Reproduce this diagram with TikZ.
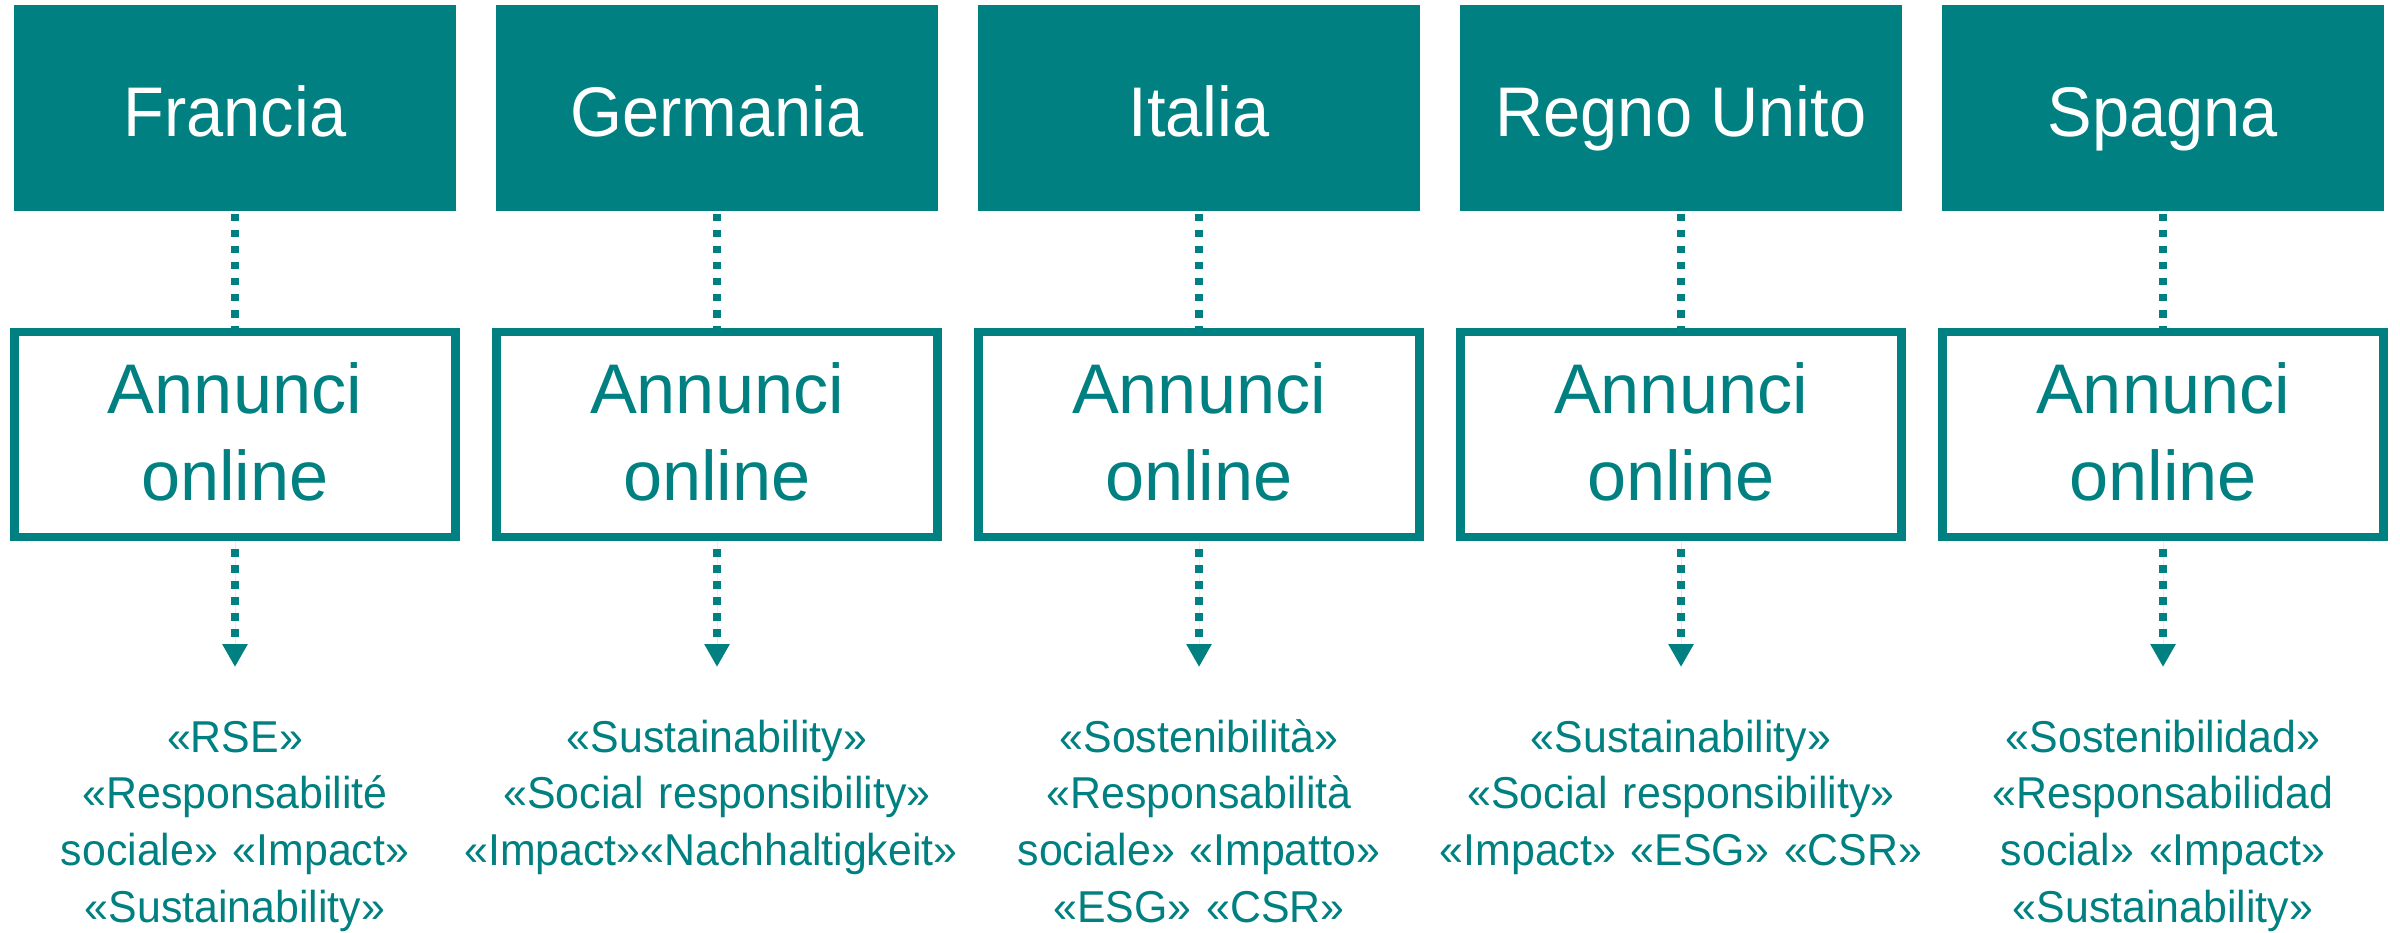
\documentclass[tikz,border=0pt]{standalone}
\usepackage{fontspec}
\setmainfont{Liberation Sans}
\newfontfamily\headf[FakeStretch=0.95]{Liberation Sans}
\newfontfamily\bodyf[FakeStretch=0.96]{Liberation Sans}
\usetikzlibrary{arrows.meta}
\definecolor{tealc}{RGB}{0,128,128}
\begin{document}
\begin{tikzpicture}[x=1cm,y=1cm,
  head/.style={fill=tealc, text=white, minimum width=4.42cm, minimum height=2.06cm,
    inner sep=0pt, outer sep=0pt, text height=0.58cm, text depth=0cm,
    font=\headf\fontsize{20pt}{24pt}\selectfont},
  ann/.style={draw=tealc, line width=0.085cm, text=tealc, minimum width=4.41cm,
    minimum height=2.05cm, inner sep=0pt, align=center,
    font=\fontsize{20pt}{24.75pt}\selectfont},
  terms/.style={text=tealc, text width=5.4cm, align=center, inner sep=0pt, anchor=base,
    font=\bodyf\fontsize{12.7pt}{16.2pt}\selectfont},
  dotline/.style={draw=tealc, line width=0.08cm, dash pattern=on 0.075cm off 0.085cm},
  tipstyle/.style={-{Triangle[width=0.24cm,length=0.23cm]}}
]
\useasboundingbox (0,0) rectangle (24,-9.33);
\foreach \i/\name/\words in {
  0/Francia/{«RSE»\\«Responsabilité\\sociale» «Impact»\\«Sustainability»},
  1/Germania/{«Sustainability»\\«Social responsibility»\\«Impact»«Nachhaltigkeit»\hspace*{0.12cm}},
  2/Italia/{«Sostenibilità»\\«Responsabilità\\sociale» «Impatto»\\«ESG» «CSR»},
  3/Regno Unito/{«Sustainability»\\«Social responsibility»\\«Impact» «ESG» «CSR»},
  4/Spagna/{«Sostenibilidad»\\«Responsabilidad\\social» «Impact»\\«Sustainability»}}{
  \pgfmathsetmacro{\cx}{2.35+4.82*\i}
  \node[head] (h\i) at (\cx,-1.08) {\name};
  \node[ann] (a\i) at (\cx,-4.345) {Annunci\\online\rule[-0.06cm]{0pt}{0.06cm}};
  \coordinate (e\i) at (\cx,-6.67);
  \node[terms] (t\i) at (\cx,-7.52) {\words};
  \draw[dotline, dash phase=0.13cm] (h\i.south) -- (a\i.north);
  \draw[dotline, dash phase=0.08cm, tipstyle, fill=tealc] (a\i.south) -- (e\i);
}
\end{tikzpicture}
\end{document}
